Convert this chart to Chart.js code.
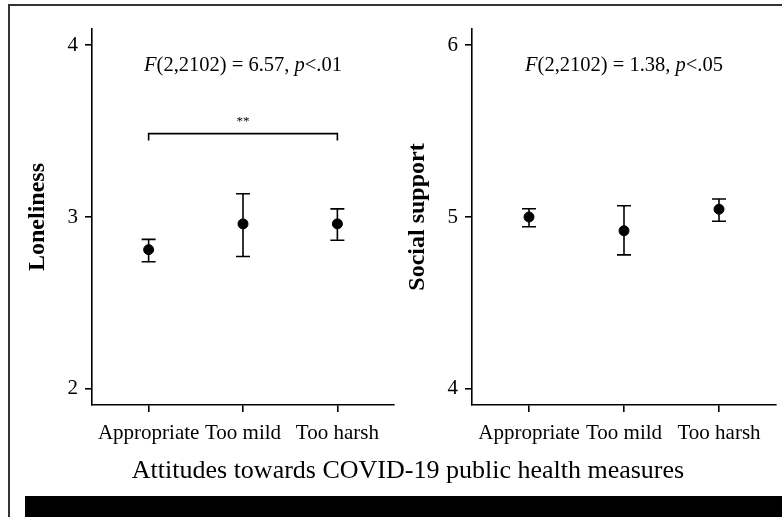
<!DOCTYPE html>
<html>
<head>
<meta charset="utf-8">
<script src="https://cdn.jsdelivr.net/npm/chart.js@4"></script>
<style>
  body { margin: 0; background: #fff; }
  #page { position: relative; width: 782px; height: 517px; overflow: hidden; background: #fff; }
  .frameTop { position: absolute; left: 8px; top: 4px; width: 774px; height: 2px; background: #333; }
  .frameLeft { position: absolute; left: 8px; top: 4px; width: 2px; height: 513px; background: #333; }
  .bar { position: absolute; left: 25px; top: 496px; right: 0; bottom: 0; background: #000; }
  #xTitle { position: absolute; left: 0; top: 455px; width: 816px; text-align: center;
            font: 26px "Liberation Serif", serif; color: #000; white-space: nowrap; }
  canvas { position: absolute; top: 0; }
</style>
</head>
<body>
<div id="page">
  <div class="frameTop"></div>
  <div class="frameLeft"></div>
  <canvas id="lonelinessChart" width="400" height="460" style="left:0"></canvas>
  <canvas id="supportChart" width="402" height="460" style="left:380px"></canvas>
  <div id="xTitle">Attitudes towards COVID-19 public health measures</div>
  <div class="bar"></div>
</div>
<script>
// dados
const categories = ['Appropriate', 'Too mild', 'Too harsh'];

const lonelinessMean = [2.81, 2.96, 2.96];
const lonelinessLow = [2.74, 2.77, 2.865];
const lonelinessHigh = [2.87, 3.135, 3.047];
const lonelinessTicks = [2, 3, 4];

const supportMean = [5.00, 4.92, 5.045];
const supportLow = [4.943, 4.78, 4.975];
const supportHigh = [5.048, 5.065, 5.105];
const supportTicks = [4, 5, 6];

// colchete de significância (Appropriate vs Too harsh)
const bracketFrom = 1;
const bracketTo = 3;
const bracketY = 3.485;

const FONT = '"Liberation Serif", serif';

// desenha texto com partes em itálico, centrado em cx
function drawRich(ctx, parts, cx, y, size) {
    let total = 0;
    parts.forEach(p => {
        ctx.font = (p.i ? 'italic ' : '') + size + 'px ' + FONT;
        p.w = ctx.measureText(p.t).width;
        total += p.w;
    });
    let x = cx - total / 2;
    ctx.textAlign = 'left';
    ctx.textBaseline = 'middle';
    ctx.fillStyle = '#000';
    parts.forEach(p => {
        ctx.font = (p.i ? 'italic ' : '') + size + 'px ' + FONT;
        ctx.fillText(p.t, x, y);
        x += p.w;
    });
}

function makeChart(id, mean, low, high, ticks, yTitle, statParts, bracket, padRight) {
    const ctx = document.getElementById(id);
    if (!ctx) return;

    const span = ticks[ticks.length - 1] - ticks[0];
    const pad = span * 0.0466;

    const errorBars = {
        id: 'errorBars',
        beforeDatasetsDraw(chart) {
            const c = chart.ctx;
            const xs = chart.scales.x, ys = chart.scales.y;
            c.save();
            c.strokeStyle = '#000';
            c.lineWidth = 1.6;
            mean.forEach((m, i) => {
                const x = xs.getPixelForValue(i + 1);
                const yl = ys.getPixelForValue(low[i]);
                const yh = ys.getPixelForValue(high[i]);
                c.beginPath();
                c.moveTo(x, yl); c.lineTo(x, yh);
                c.moveTo(x - 7, yl); c.lineTo(x + 7, yl);
                c.moveTo(x - 7, yh); c.lineTo(x + 7, yh);
                c.stroke();
            });
            c.restore();
        },
        afterDraw(chart) {
            const c = chart.ctx;
            const xs = chart.scales.x, ys = chart.scales.y;
            c.save();
            drawRich(c, statParts, xs.getPixelForValue(2), chart.chartArea.top + 37, 20.5);
            if (bracket) {
                const x1 = xs.getPixelForValue(bracket.from);
                const x2 = xs.getPixelForValue(bracket.to);
                const yb = ys.getPixelForValue(bracket.y);
                c.strokeStyle = '#000';
                c.lineWidth = 1.6;
                c.beginPath();
                c.moveTo(x1, yb + 7); c.lineTo(x1, yb); c.lineTo(x2, yb); c.lineTo(x2, yb + 7);
                c.stroke();
                c.font = '13px ' + FONT;
                c.textAlign = 'center';
                c.textBaseline = 'middle';
                c.fillStyle = '#000';
                c.fillText(bracket.label, (x1 + x2) / 2, yb - 12);
            }
            c.restore();
        }
    };

    new Chart(ctx, {
        type: 'scatter',
        data: {
            datasets: [{
                data: mean.map((m, i) => ({ x: i + 1, y: m })),
                backgroundColor: '#000',
                borderColor: '#000',
                pointRadius: 5,
                pointHoverRadius: 5
            }]
        },
        options: {
            responsive: false,
            animation: false,
            devicePixelRatio: 1,
            layout: { padding: { top: 29, right: padRight, left: 0, bottom: 0 } },
            plugins: {
                legend: { display: false },
                tooltip: { enabled: false }
            },
            scales: {
                x: {
                    type: 'linear',
                    min: 0.4,
                    max: 3.6,
                    afterBuildTicks: s => { s.ticks = categories.map((c, i) => ({ value: i + 1 })); },
                    afterFit: s => { s.height = 55; },
                    grid: { drawOnChartArea: false, drawTicks: true, tickLength: 7, color: '#000', lineWidth: 1.6 },
                    border: { display: true, color: '#000', width: 1.6 },
                    ticks: {
                        callback: v => categories[v - 1],
                        font: { family: FONT, size: 21 },
                        color: '#000',
                        padding: 9,
                        maxRotation: 0,
                        autoSkip: false
                    }
                },
                y: {
                    min: ticks[0] - pad,
                    max: ticks[ticks.length - 1] + pad,
                    afterBuildTicks: s => { s.ticks = ticks.map(v => ({ value: v })); },
                    afterFit: s => { s.width = 92; },
                    grid: { drawOnChartArea: false, drawTicks: true, tickLength: 7, color: '#000', lineWidth: 1.6 },
                    border: { display: true, color: '#000', width: 1.6 },
                    ticks: {
                        font: { family: FONT, size: 21 },
                        color: '#000',
                        padding: 7
                    },
                    title: {
                        display: true,
                        text: yTitle,
                        color: '#000',
                        font: { family: FONT, size: 24, weight: 'bold' },
                        padding: { top: 23 }
                    }
                }
            }
        },
        plugins: [errorBars]
    });
}

makeChart('lonelinessChart', lonelinessMean, lonelinessLow, lonelinessHigh, lonelinessTicks, 'Loneliness',
    [{ t: 'F', i: true }, { t: '(2,2102) = 6.57, ' }, { t: 'p', i: true }, { t: '<.01' }],
    { from: bracketFrom, to: bracketTo, y: bracketY, label: '**' }, 5);

makeChart('supportChart', supportMean, supportLow, supportHigh, supportTicks, 'Social support',
    [{ t: 'F', i: true }, { t: '(2,2102) = 1.38, ' }, { t: 'p', i: true }, { t: '<.05' }],
    null, 3);
</script>
</body>
</html>
